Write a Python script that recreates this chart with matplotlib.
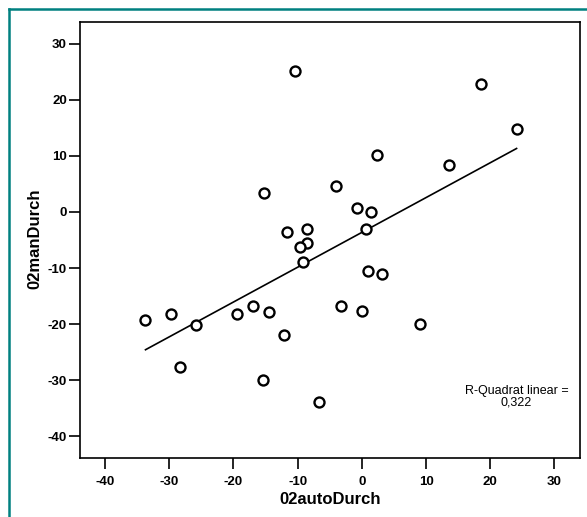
import numpy as np
import matplotlib
matplotlib.use("Agg")
import matplotlib.pyplot as plt
from matplotlib.lines import Line2D

plt.rcParams['font.family'] = ['Liberation Sans', 'DejaVu Sans']
plt.rcParams['axes.unicode_minus'] = False

# 02autoDurch / 02manDurch
auto_durch = [-10.4, 18.5, 24.1, 2.4, 13.5, -4.0, -15.3, -0.8, 1.4, 0.6,
              -8.6, -11.7, -8.5, -9.6, -9.1, 1.0, 3.2, -3.3, 0.0, 9.0,
              -6.6, -33.7, -29.8, -25.9, -28.3, -19.5, -17.0, -14.5, -12.2, -15.4]
man_durch = [25.1, 22.8, 14.8, 10.2, 8.3, 4.7, 3.3, 0.7, 0.0, -3.0,
             -3.0, -3.5, -5.6, -6.25, -8.9, -10.5, -11.0, -16.8, -17.7, -19.9,
             -33.8, -19.2, -18.1, -20.2, -27.6, -18.2, -16.7, -17.9, -22.0, -29.9]
ticks = [-40, -30, -20, -10, 0, 10, 20, 30]
r2_text = "R-Quadrat linear =\n0,322"

x = np.array(auto_durch)
y = np.array(man_durch)

fig = plt.figure(figsize=(5.87, 5.17), dpi=100)
fig.patch.set_facecolor('white')
ax = fig.add_axes([0.1363, 0.1135, 0.852, 0.8445])

# linear fit
slope, intercept = np.polyfit(x, y, 1)
xs = np.array([x.min(), x.max()])
ax.plot(xs, slope * xs + intercept, color='black', lw=1.2, zorder=2)

ax.plot(x, y, 'o', ms=7.2, mfc='white', mec='black', mew=1.7, zorder=3)

ax.set_xlim(-43.9, 34.0)
ax.set_ylim(-43.9, 33.9)
ax.set_xticks(ticks)
ax.set_yticks(ticks)
ax.tick_params(direction='out', length=8, width=1.2, labelsize=9.5)
ax.tick_params(axis='y', pad=1.5)
ax.tick_params(axis='x', pad=5)
for lab in ax.get_xticklabels() + ax.get_yticklabels():
    lab.set_fontweight('bold')
for sp in ax.spines.values():
    sp.set_linewidth(1.2)

ax.set_xlabel('02autoDurch', fontsize=12, fontweight='bold', va='center')
ax.xaxis.set_label_coords(0.5, -0.0932)
ax.set_ylabel('02manDurch', fontsize=12, fontweight='bold', va='center')
ax.yaxis.set_label_coords(-0.091, 0.5037)

ax.text(24.1, -33.0, r2_text, ha='center', va='center', fontsize=9,
        linespacing=0.95)

# teal frame lines at top and left
teal = '#008080'
fig.add_artist(Line2D([9 / 587, 1], [1 - 9 / 517, 1 - 9 / 517],
                      transform=fig.transFigure, color=teal, lw=1.8))
fig.add_artist(Line2D([9 / 587, 9 / 587], [0, 1 - 9 / 517],
                      transform=fig.transFigure, color=teal, lw=1.8))

fig.savefig('out.png', dpi=100)
